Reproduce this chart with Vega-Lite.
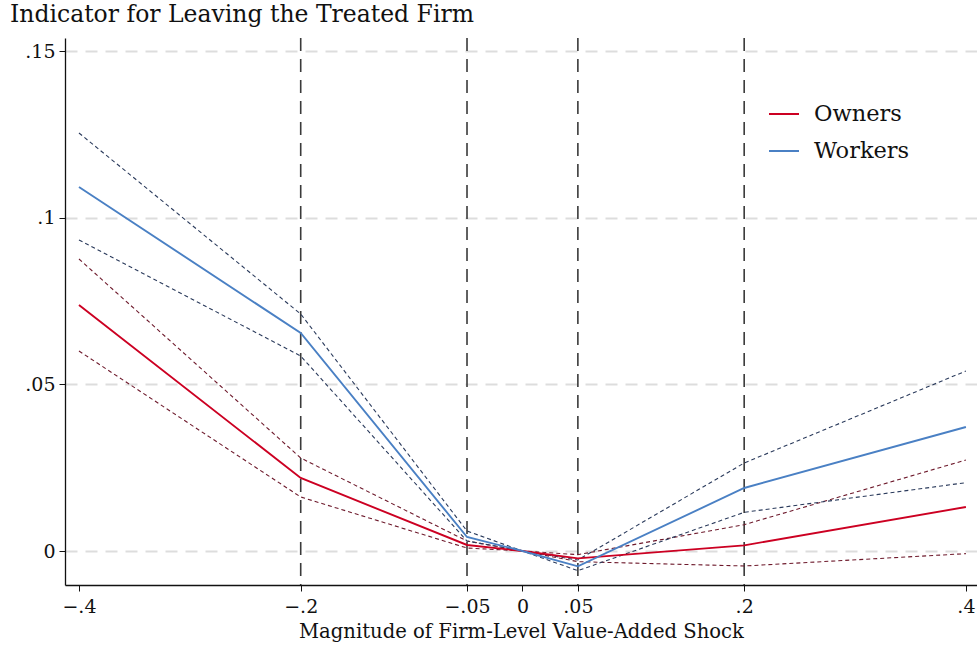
{
  "$schema": "https://vega.github.io/schema/vega-lite/v6.json",
  "width": 912,
  "height": 547,
  "autosize": "none",
  "padding": {"left": 65, "top": 38, "right": 0, "bottom": 65},
  "background": "white",
  "config": {
    "font": "DejaVu Serif",
    "view": {"stroke": null},
    "axis": {"labelFont": "DejaVu Serif", "titleFont": "DejaVu Serif"}
  },
  "title": {
    "text": "Indicator for Leaving the Treated Firm",
    "anchor": "start",
    "frame": "group",
    "dx": -55,
    "offset": 11,
    "fontSize": 23.5,
    "fontWeight": "normal",
    "font": "DejaVu Serif",
    "color": "#111111"
  },
  "datasets": {
    "series": [
      {"shock": -0.4, "group": "Owners", "band": "est", "value": 0.0738},
      {"shock": -0.2, "group": "Owners", "band": "est", "value": 0.0219},
      {"shock": -0.05, "group": "Owners", "band": "est", "value": 0.0018},
      {"shock": 0, "group": "Owners", "band": "est", "value": 0},
      {"shock": 0.05, "group": "Owners", "band": "est", "value": -0.0022},
      {"shock": 0.2, "group": "Owners", "band": "est", "value": 0.0017},
      {"shock": 0.4, "group": "Owners", "band": "est", "value": 0.0132},
      {"shock": -0.4, "group": "Owners", "band": "upper", "value": 0.0876},
      {"shock": -0.2, "group": "Owners", "band": "upper", "value": 0.0279},
      {"shock": -0.05, "group": "Owners", "band": "upper", "value": 0.003},
      {"shock": 0, "group": "Owners", "band": "upper", "value": 0},
      {"shock": 0.05, "group": "Owners", "band": "upper", "value": -0.0011},
      {"shock": 0.2, "group": "Owners", "band": "upper", "value": 0.0079},
      {"shock": 0.4, "group": "Owners", "band": "upper", "value": 0.0273},
      {"shock": -0.4, "group": "Owners", "band": "lower", "value": 0.06},
      {"shock": -0.2, "group": "Owners", "band": "lower", "value": 0.0162},
      {"shock": -0.05, "group": "Owners", "band": "lower", "value": 0.0009},
      {"shock": 0, "group": "Owners", "band": "lower", "value": 0},
      {"shock": 0.05, "group": "Owners", "band": "lower", "value": -0.0032},
      {"shock": 0.2, "group": "Owners", "band": "lower", "value": -0.0045},
      {"shock": 0.4, "group": "Owners", "band": "lower", "value": -0.0008},
      {"shock": -0.4, "group": "Workers", "band": "est", "value": 0.1092},
      {"shock": -0.2, "group": "Workers", "band": "est", "value": 0.0654},
      {"shock": -0.05, "group": "Workers", "band": "est", "value": 0.0042},
      {"shock": 0, "group": "Workers", "band": "est", "value": 0},
      {"shock": 0.05, "group": "Workers", "band": "est", "value": -0.0046},
      {"shock": 0.2, "group": "Workers", "band": "est", "value": 0.0189},
      {"shock": 0.4, "group": "Workers", "band": "est", "value": 0.0372},
      {"shock": -0.4, "group": "Workers", "band": "upper", "value": 0.1254},
      {"shock": -0.2, "group": "Workers", "band": "upper", "value": 0.0711},
      {"shock": -0.05, "group": "Workers", "band": "upper", "value": 0.006},
      {"shock": 0, "group": "Workers", "band": "upper", "value": 0},
      {"shock": 0.05, "group": "Workers", "band": "upper", "value": -0.0027},
      {"shock": 0.2, "group": "Workers", "band": "upper", "value": 0.0264},
      {"shock": 0.4, "group": "Workers", "band": "upper", "value": 0.054},
      {"shock": -0.4, "group": "Workers", "band": "lower", "value": 0.0933},
      {"shock": -0.2, "group": "Workers", "band": "lower", "value": 0.0585},
      {"shock": -0.05, "group": "Workers", "band": "lower", "value": 0.003},
      {"shock": 0, "group": "Workers", "band": "lower", "value": 0},
      {"shock": 0.05, "group": "Workers", "band": "lower", "value": -0.0059},
      {"shock": 0.2, "group": "Workers", "band": "lower", "value": 0.0116},
      {"shock": 0.4, "group": "Workers", "band": "lower", "value": 0.0205}
    ],
    "vlines": [{"shock": -0.2}, {"shock": -0.05}, {"shock": 0.05}, {"shock": 0.2}]
  },
  "layer": [
    {
      "data": {"name": "vlines"},
      "mark": {"type": "rule", "color": "#3a3a3a", "strokeWidth": 1.6, "strokeDash": [13, 8]},
      "encoding": {
        "x": {
          "field": "shock",
          "type": "quantitative",
          "scale": {"domain": [-0.4126, 0.41], "nice": false, "zero": false},
          "axis": {
            "values": [-0.4, -0.2, -0.05, 0, 0.05, 0.2, 0.4],
            "labelExpr": "datum.value == 0 ? '0' : replace(format(datum.value, '.2~f'), '0.', '.')",
            "title": "Magnitude of Firm-Level Value-Added Shock",
            "titleFontSize": 19.6,
            "titleFontWeight": "normal",
            "titleColor": "#111111",
            "titlePadding": 6,
            "labelFontSize": 19,
            "labelColor": "#111111",
            "labelPadding": 6,
            "labelFlush": false,
            "tickSize": 6,
            "tickColor": "#111111",
            "domainColor": "#111111",
            "domainWidth": 1.3,
            "grid": false
          }
        }
      }
    },
    {
      "data": {"name": "series"},
      "transform": [{"filter": "datum.band != 'est'"}],
      "mark": {"type": "line", "strokeWidth": 1.1, "strokeDash": [4, 3]},
      "encoding": {
        "x": {"field": "shock", "type": "quantitative"},
        "y": {
          "field": "value",
          "type": "quantitative",
          "scale": {"domain": [-0.0102, 0.1539], "nice": false, "zero": false},
          "axis": {
            "values": [0, 0.05, 0.1, 0.15],
            "labelExpr": "datum.value == 0 ? '0' : replace(format(datum.value, '.2~f'), '0.', '.')",
            "title": null,
            "labelFontSize": 19,
            "labelColor": "#111111",
            "labelPadding": 4,
            "tickSize": 6,
            "tickColor": "#111111",
            "domainColor": "#111111",
            "domainWidth": 1.3,
            "grid": true,
            "gridColor": "#dddddd",
            "gridWidth": 1.8,
            "gridDash": [12, 8]
          }
        },
        "color": {
          "field": "group",
          "type": "nominal",
          "scale": {"domain": ["Owners", "Workers"], "range": ["#6e1a2c", "#2b3b5c"]},
          "legend": null
        },
        "detail": {"field": "band", "type": "nominal"}
      }
    },
    {
      "data": {"name": "series"},
      "transform": [{"filter": "datum.band == 'est'"}],
      "mark": {"type": "line", "strokeWidth": 1.9},
      "encoding": {
        "x": {"field": "shock", "type": "quantitative"},
        "y": {"field": "value", "type": "quantitative"},
        "color": {
          "field": "group",
          "type": "nominal",
          "scale": {"domain": ["Owners", "Workers"], "range": ["#cc0022", "#4a80c4"]},
          "legend": {
            "title": null,
            "orient": "none",
            "legendX": 703,
            "legendY": 60,
            "symbolType": "stroke",
            "symbolSize": 900,
            "symbolStrokeWidth": 2,
            "labelFontSize": 22.5,
            "labelColor": "#111111",
            "labelFont": "DejaVu Serif",
            "rowPadding": 9,
            "labelOffset": 14
          }
        }
      }
    }
  ],
  "resolve": {"scale": {"color": "independent"}}
}
